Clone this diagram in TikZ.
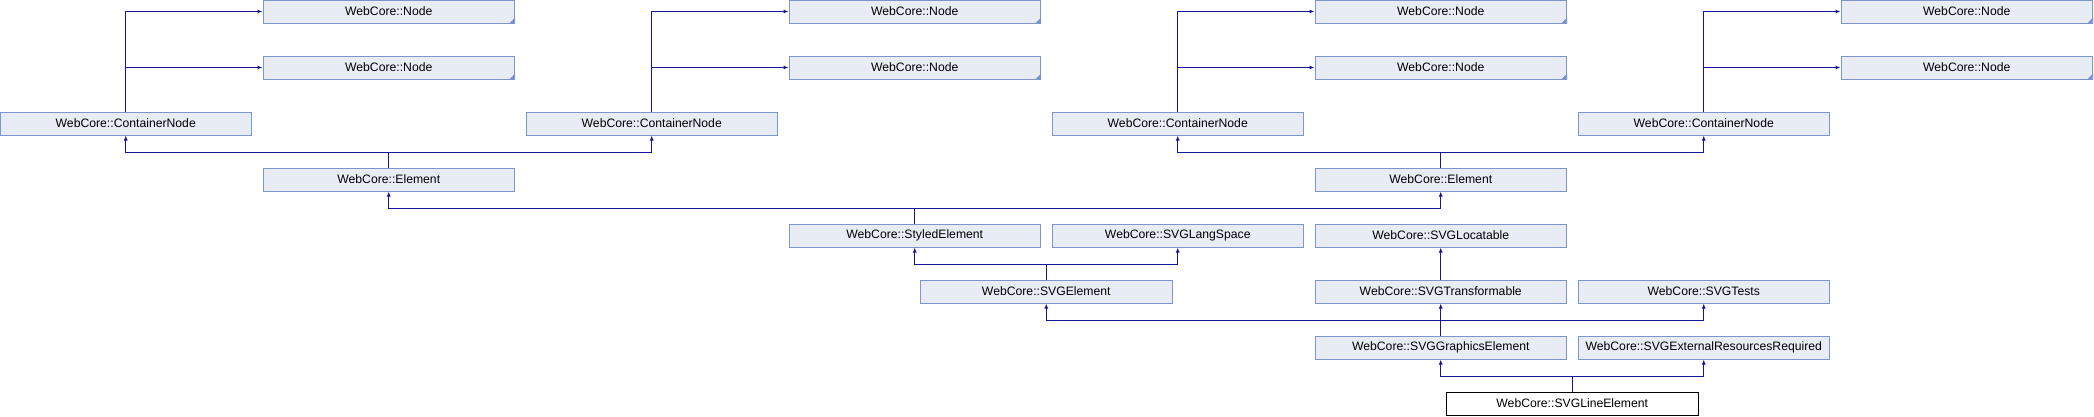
\documentclass[tikz,border=0pt]{standalone}
\usepackage{fontspec}
\setmainfont{Liberation Sans}
\usetikzlibrary{arrows.meta}
\definecolor{boxfill}{HTML}{E8ECF5}
\definecolor{boxline}{HTML}{7C95CD}
\definecolor{edgecol}{HTML}{15159E}
\tikzset{
  cls/.style={draw=boxline, fill=boxfill, line width=1pt, minimum width=251.5pt, minimum height=23pt, inner sep=0pt, font=\fontsize{12.2pt}{14pt}\selectfont},
  cur/.style={cls, draw=black, fill=white},
  edge/.style={draw=edgecol, line width=1pt, -{Latex[length=5pt,width=4pt]}},
  plain/.style={draw=edgecol, line width=1pt},
}
\newcommand{\trunc}[1]{\fill[boxline] (#1.south east) -- ++(-6pt,0) -- ++(6pt,6pt) -- cycle;}
\begin{document}
\begin{tikzpicture}[x=1pt,y=1pt]
\useasboundingbox (0,0) rectangle (2094,-416);
% row centres: -11.5 -67.5 -123.5 -179.5 -235.5 -291.5 -347.5 -403.5
\node[cls] (n1a) at (388.75,-11.5) {WebCore::Node};
\node[cls] (n1b) at (388.75,-67.5) {WebCore::Node};
\node[cls] (cn1) at (125.75,-123.5) {WebCore::ContainerNode};
\node[cls] (n2a) at (914.75,-11.5) {WebCore::Node};
\node[cls] (n2b) at (914.75,-67.5) {WebCore::Node};
\node[cls] (cn2) at (651.75,-123.5) {WebCore::ContainerNode};
\node[cls] (n3a) at (1440.75,-11.5) {WebCore::Node};
\node[cls] (n3b) at (1440.75,-67.5) {WebCore::Node};
\node[cls] (cn3) at (1177.75,-123.5) {WebCore::ContainerNode};
\node[cls] (n4a) at (1966.75,-11.5) {WebCore::Node};
\node[cls] (n4b) at (1966.75,-67.5) {WebCore::Node};
\node[cls] (cn4) at (1703.75,-123.5) {WebCore::ContainerNode};
\node[cls] (el1) at (388.75,-179.5) {WebCore::Element};
\node[cls] (el2) at (1440.75,-179.5) {WebCore::Element};
\node[cls] (sty) at (914.75,-235.5) {WebCore::StyledElement};
\node[cls] (lang) at (1177.75,-235.5) {WebCore::SVGLangSpace};
\node[cls] (loc) at (1440.75,-235.5) {WebCore::SVGLocatable};
\node[cls] (svg) at (1046.25,-291.5) {WebCore::SVGElement};
\node[cls] (trans) at (1440.75,-291.5) {WebCore::SVGTransformable};
\node[cls] (tests) at (1703.75,-291.5) {WebCore::SVGTests};
\node[cls] (gfx) at (1440.75,-347.5) {WebCore::SVGGraphicsElement};
\node[cls] (ext) at (1703.75,-347.5) {WebCore::SVGExternalResourcesRequired};
\node[cur] (line) at (1572.25,-403.5) {WebCore::SVGLineElement};
\foreach \n in {n1a,n1b,n2a,n2b,n3a,n3b,n4a,n4b} {\trunc{\n}}
% junction points
\coordinate (j1) at (388.75,-152);
\coordinate (j2) at (1440.75,-152);
\coordinate (j3) at (914.75,-208);
\coordinate (j4) at (1046.25,-264);
\coordinate (j5) at (1440.75,-320);
\coordinate (j6) at (1572.25,-376);
% ContainerNode -> Node
\draw[edge] (cn1.north) |- (n1a.west);
\draw[edge] (cn1.north) |- (n1b.west);
\draw[edge] (cn2.north) |- (n2a.west);
\draw[edge] (cn2.north) |- (n2b.west);
\draw[edge] (cn3.north) |- (n3a.west);
\draw[edge] (cn3.north) |- (n3b.west);
\draw[edge] (cn4.north) |- (n4a.west);
\draw[edge] (cn4.north) |- (n4b.west);
% Element -> ContainerNode
\draw[plain] (el1.north) -- (j1);
\draw[edge] (j1) -| (cn1.south);
\draw[edge] (j1) -| (cn2.south);
\draw[plain] (el2.north) -- (j2);
\draw[edge] (j2) -| (cn3.south);
\draw[edge] (j2) -| (cn4.south);
% StyledElement -> Element
\draw[plain] (sty.north) -- (j3);
\draw[edge] (j3) -| (el1.south);
\draw[edge] (j3) -| (el2.south);
% SVGElement -> StyledElement, SVGLangSpace
\draw[plain] (svg.north) -- (j4);
\draw[edge] (j4) -| (sty.south);
\draw[edge] (j4) -| (lang.south);
% SVGTransformable -> SVGLocatable
\draw[edge] (trans.north) -- (loc.south);
% SVGGraphicsElement -> SVGElement, SVGTransformable, SVGTests
\draw[plain] (gfx.north) -- (j5);
\draw[edge] (j5) -| (svg.south);
\draw[edge] (j5) -- (trans.south);
\draw[edge] (j5) -| (tests.south);
% SVGLineElement -> SVGGraphicsElement, SVGExternalResourcesRequired
\draw[plain] (line.north) -- (j6);
\draw[edge] (j6) -| (gfx.south);
\draw[edge] (j6) -| (ext.south);
\end{tikzpicture}
\end{document}
